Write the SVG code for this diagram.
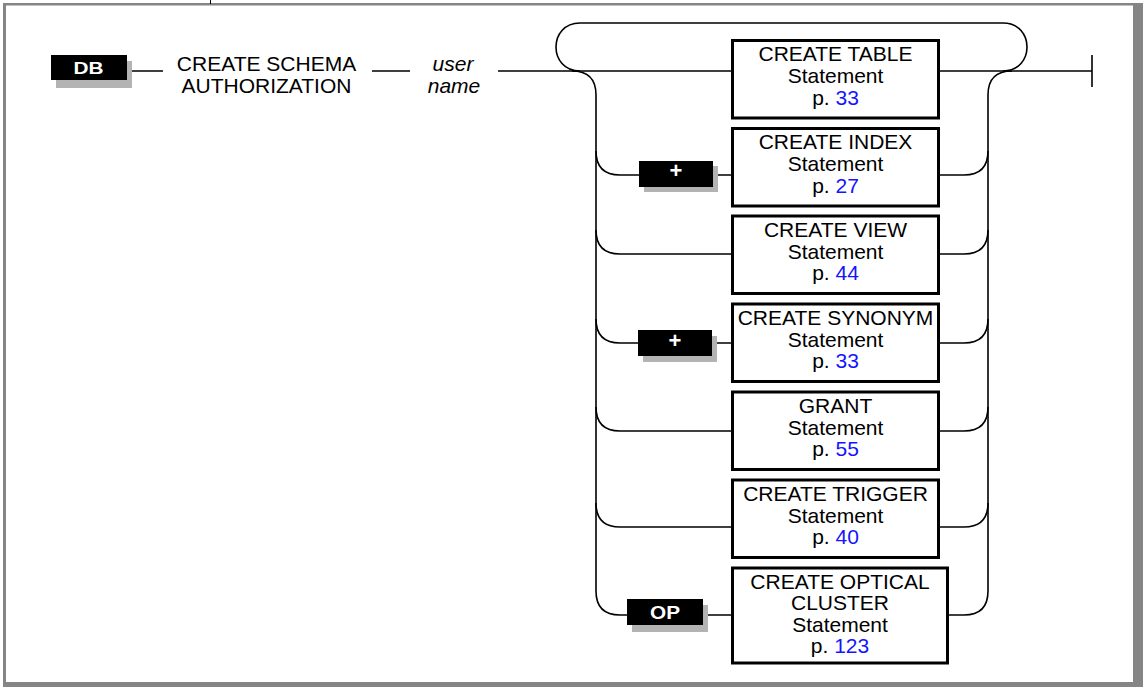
<svg xmlns="http://www.w3.org/2000/svg" width="1143" height="687" viewBox="0 0 1143 687">
<style>
  .frame{fill:#858585}
  .conn{fill:none;stroke:#000;stroke-width:1.6}
  .box{fill:#fff;stroke:#000;stroke-width:3}
  .tag{fill:#000}
  .shadow{fill:#b3b3b3}
  .t{font-family:"Liberation Sans",Arial,sans-serif;font-size:21px;fill:#000;text-anchor:middle}
  .it{font-style:italic}
  .tagt{font-family:"Liberation Sans",Arial,sans-serif;font-weight:bold;fill:#fff;text-anchor:middle}
  .pg{fill:#1414ff}
</style>
<rect width="1143" height="687" fill="#fff"/>
<g id="frame">
  <rect class="frame" x="3" y="3" width="1133" height="2.5"/>
  <rect class="frame" x="3" y="3" width="3" height="682"/>
  <rect class="frame" x="1133" y="3" width="10" height="684"/>
  <rect class="frame" x="3" y="682" width="1140" height="5"/>
  <line x1="210.5" y1="0" x2="210.5" y2="4" stroke="#000" stroke-width="1"/>
</g>
<g id="connectors" class="conn">
  <path d="M127 71H163M372 71H410M498 71H731"/>
  <path d="M580 71C548 71 548 23 580 23H1003C1035 23 1035 71 1003 71"/>
  <path d="M572 71Q596 71 596 95V591Q596 615 620 615H731"/>
  <path d="M596 151Q596 175 620 175H731"/>
  <path d="M596 230Q596 254 620 254H731"/>
  <path d="M596 319Q596 343 620 343H731"/>
  <path d="M596 407Q596 431 620 431H731"/>
  <path d="M596 503Q596 527 620 527H731"/>
  <path d="M940 71H1092M1092 55V87"/>
  <path d="M1012 71Q988 71 988 95V591Q988 615 964 615H949"/>
  <path d="M940 175H964Q988 175 988 151"/>
  <path d="M940 254H964Q988 254 988 230"/>
  <path d="M940 343H964Q988 343 988 319"/>
  <path d="M940 431H964Q988 431 988 407"/>
  <path d="M940 527H964Q988 527 988 503"/>
</g>
<g id="db">
  <rect class="shadow" x="56" y="61" width="76" height="27"/>
  <rect class="tag" x="51" y="55" width="76" height="25"/>
  <text class="tagt" x="88.5" y="74" font-size="16" textLength="30" lengthAdjust="spacingAndGlyphs">DB</text>
</g>
<g id="create-schema">
  <text class="t" x="266.5" y="71">CREATE SCHEMA</text>
  <text class="t" x="266.5" y="93">AUTHORIZATION</text>
</g>
<g id="user-name">
  <text class="t it" x="453" y="71">user</text>
  <text class="t it" x="454" y="93">name</text>
</g>
<g id="create-table">
  <rect class="box" x="732.5" y="40.5" width="206" height="77.5"/>
  <text class="t" x="835.5" y="61">CREATE TABLE</text>
  <text class="t" x="835.5" y="83">Statement</text>
  <text class="t" x="835.5" y="104.5">p. <tspan class="pg">33</tspan></text>
</g>
<g id="plus-index">
  <rect class="shadow" x="644" y="166" width="74" height="26"/>
  <rect class="tag" x="639" y="161" width="74" height="26"/>
  <text class="tagt" x="676" y="177.5" font-size="22">+</text>
</g>
<g id="create-index">
  <rect class="box" x="732.5" y="128.5" width="206" height="77.5"/>
  <text class="t" x="835.5" y="149">CREATE INDEX</text>
  <text class="t" x="835.5" y="171">Statement</text>
  <text class="t" x="835.5" y="192.5">p. <tspan class="pg">27</tspan></text>
</g>
<g id="create-view">
  <rect class="box" x="732.5" y="216" width="206" height="77.5"/>
  <text class="t" x="835.5" y="236.5">CREATE VIEW</text>
  <text class="t" x="835.5" y="258.5">Statement</text>
  <text class="t" x="835.5" y="280">p. <tspan class="pg">44</tspan></text>
</g>
<g id="plus-synonym">
  <rect class="shadow" x="643" y="336" width="74" height="26"/>
  <rect class="tag" x="638" y="330" width="74" height="26"/>
  <text class="tagt" x="675" y="347.5" font-size="22">+</text>
</g>
<g id="create-synonym">
  <rect class="box" x="732.5" y="304" width="206" height="77.5"/>
  <text class="t" x="835.5" y="324.5">CREATE SYNONYM</text>
  <text class="t" x="835.5" y="346.5">Statement</text>
  <text class="t" x="835.5" y="368">p. <tspan class="pg">33</tspan></text>
</g>
<g id="grant">
  <rect class="box" x="732.5" y="392" width="206" height="77.5"/>
  <text class="t" x="835.5" y="412.5">GRANT</text>
  <text class="t" x="835.5" y="434.5">Statement</text>
  <text class="t" x="835.5" y="456">p. <tspan class="pg">55</tspan></text>
</g>
<g id="create-trigger">
  <rect class="box" x="732.5" y="480" width="206" height="77.5"/>
  <text class="t" x="835.5" y="500.5">CREATE TRIGGER</text>
  <text class="t" x="835.5" y="522.5">Statement</text>
  <text class="t" x="835.5" y="544">p. <tspan class="pg">40</tspan></text>
</g>
<g id="op">
  <rect class="shadow" x="632" y="605" width="76" height="27"/>
  <rect class="tag" x="627" y="599" width="76" height="26"/>
  <text class="tagt" x="665" y="618.5" font-size="19" textLength="30" lengthAdjust="spacingAndGlyphs">OP</text>
</g>
<g id="create-optical-cluster">
  <rect class="box" x="732.5" y="568" width="215" height="95"/>
  <text class="t" x="840" y="588.5">CREATE OPTICAL</text>
  <text class="t" x="840" y="610">CLUSTER</text>
  <text class="t" x="840" y="631.5">Statement</text>
  <text class="t" x="840" y="653">p. <tspan class="pg">123</tspan></text>
</g>
</svg>
